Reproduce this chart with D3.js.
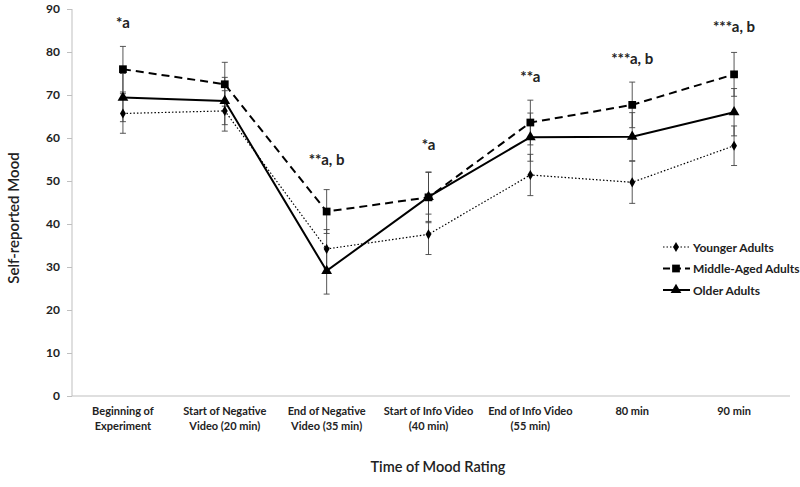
<!DOCTYPE html>
<html><head><meta charset="utf-8">
<script src="https://cdn.jsdelivr.net/npm/d3@7"></script>
<style>body{margin:0;background:#fff}svg{display:block}text{font-family:Lato,"Open Sans",sans-serif}</style>
</head><body><svg id="c" width="800" height="487"></svg>
<script>
const categories = ["Beginning of Experiment","Start of Negative Video (20 min)","End of Negative Video (35 min)","Start of Info Video (40 min)","End of Info Video (55 min)","80 min","90 min"];
const categoryLines = [["Beginning  of","Experiment"],["Start of Negative","Video (20 min)"],["End of Negative","Video (35 min)"],["Start of Info Video","(40 min)"],["End of Info Video","(55 min)"],["80 min"],["90 min"]];
const younger = [65.7, 66.3, 34.2, 37.6, 51.4, 49.7, 58.2];
const youngerErr = [4.6, 4.7, 4.5, 4.7, 4.8, 4.9, 4.6];
const middle = [76.0, 72.5, 42.9, 46.2, 63.6, 67.7, 74.8];
const middleErr = [5.3, 5.1, 5.1, 5.9, 5.2, 5.3, 5.1];
const older = [69.4, 68.6, 29.1, 46.3, 60.2, 60.3, 66.0];
const olderErr = [5.6, 5.5, 5.4, 5.7, 5.6, 5.6, 5.5];
const yTicks = [0,10,20,30,40,50,60,70,80,90];
const annotations = ["*a", "", "**a, b", "*a", "**a", "***a, b", "***a, b"];
const annotationLevels = [85.6, null, 53.7, 57.2, 73.0, 77.2, 84.7];
const seriesNames = ["Younger Adults","Middle-Aged Adults","Older Adults"];

const svg = d3.select("#c");
const x = d3.scalePoint().domain(categories).range([72, 785]).padding(0.5);
const y = d3.scaleLinear().domain([0, 90]).range([396, 9]);

const series = [
  {name: seriesNames[0], values: younger, err: youngerErr, dash: "1.5,2", width: 1.2, shape: d3.symbolDiamond, size: 30},
  {name: seriesNames[1], values: middle, err: middleErr, dash: "8,5", width: 2, shape: d3.symbolSquare, size: 60},
  {name: seriesNames[2], values: older, err: olderErr, dash: null, width: 2, shape: d3.symbolTriangle, size: 50}
];

// axes
const yAxis = d3.axisLeft(y).tickValues(yTicks).tickSize(5).tickPadding(7);
const gy = svg.append("g").attr("transform","translate(72,0)").call(yAxis);
gy.select(".domain").attr("stroke","#bfbfbf").attr("d","M0,9V396");
gy.selectAll(".tick line").attr("stroke","#bfbfbf");
gy.selectAll(".tick text").attr("font-size",12).attr("font-weight","bold").attr("fill","#222");

svg.append("line").attr("x1",72).attr("x2",790).attr("y1",y(0)).attr("y2",y(0)).attr("stroke","#bfbfbf");

// x labels
const xl = svg.append("g");
categories.forEach((c,i)=>{
  const t = xl.append("text").attr("x",x(c)).attr("y",415).attr("text-anchor","middle")
    .attr("font-size",11).attr("font-weight","bold").attr("fill","#222");
  categoryLines[i].forEach((l,j)=>t.append("tspan").attr("x",x(c)).attr("dy", j===0?0:15).text(l));
});

// titles
svg.append("text").attr("x",438).attr("y",472).attr("text-anchor","middle").attr("font-size",14.5).attr("font-weight",600).attr("fill","#222").text("Time of Mood Rating");
svg.append("text").attr("transform","translate(19,218) rotate(-90)").attr("text-anchor","middle").attr("font-size",15).attr("font-weight",600).attr("fill","#222").text("Self-reported Mood");

// error bars
series.forEach(s=>{
  const g = svg.append("g").attr("stroke","#444").attr("stroke-width",0.9);
  s.values.forEach((v,i)=>{
    const cx = x(categories[i]);
    g.append("line").attr("x1",cx).attr("x2",cx).attr("y1",y(v+s.err[i])).attr("y2",y(v-s.err[i]));
    [v+s.err[i], v-s.err[i]].forEach(e=>g.append("line").attr("x1",cx-3).attr("x2",cx+3).attr("y1",y(e)).attr("y2",y(e)));
  });
});

// lines
const line = d3.line().x((d,i)=>x(categories[i])).y(d=>y(d));
series.forEach(s=>{
  svg.append("path").datum(s.values).attr("d",line).attr("fill","none").attr("stroke","#000")
    .attr("stroke-width",s.width).attr("stroke-dasharray",s.dash);
});
series.forEach(s=>{
  svg.append("g").selectAll("path").data(s.values).join("path")
    .attr("d",d3.symbol().type(s.shape).size(s.size))
    .attr("transform",(d,i)=>`translate(${x(categories[i])},${y(d)})`).attr("fill","#000");
});

// annotations
annotations.forEach((a,i)=>{
  if(!a) return;
  svg.append("text").attr("x",x(categories[i])).attr("y",y(annotationLevels[i])).attr("text-anchor","middle")
    .attr("font-size",15).attr("font-weight","bold").attr("fill","#222").text(a);
});

// legend
const lg = svg.append("g");
series.forEach((s,i)=>{
  const yy = 247 + i*21.5;
  lg.append("line").attr("x1",663).attr("x2",690).attr("y1",yy).attr("y2",yy).attr("stroke","#000")
    .attr("stroke-width",s.width).attr("stroke-dasharray", i===1 ? "7,4" : s.dash);
  lg.append("path").attr("d",d3.symbol().type(s.shape).size(s.size)).attr("transform",`translate(676,${yy})`).attr("fill","#000");
  lg.append("text").attr("x",693).attr("y",yy+4.5).attr("font-size",12).attr("font-weight","bold").attr("fill","#222").text(s.name);
});
</script></body></html>
